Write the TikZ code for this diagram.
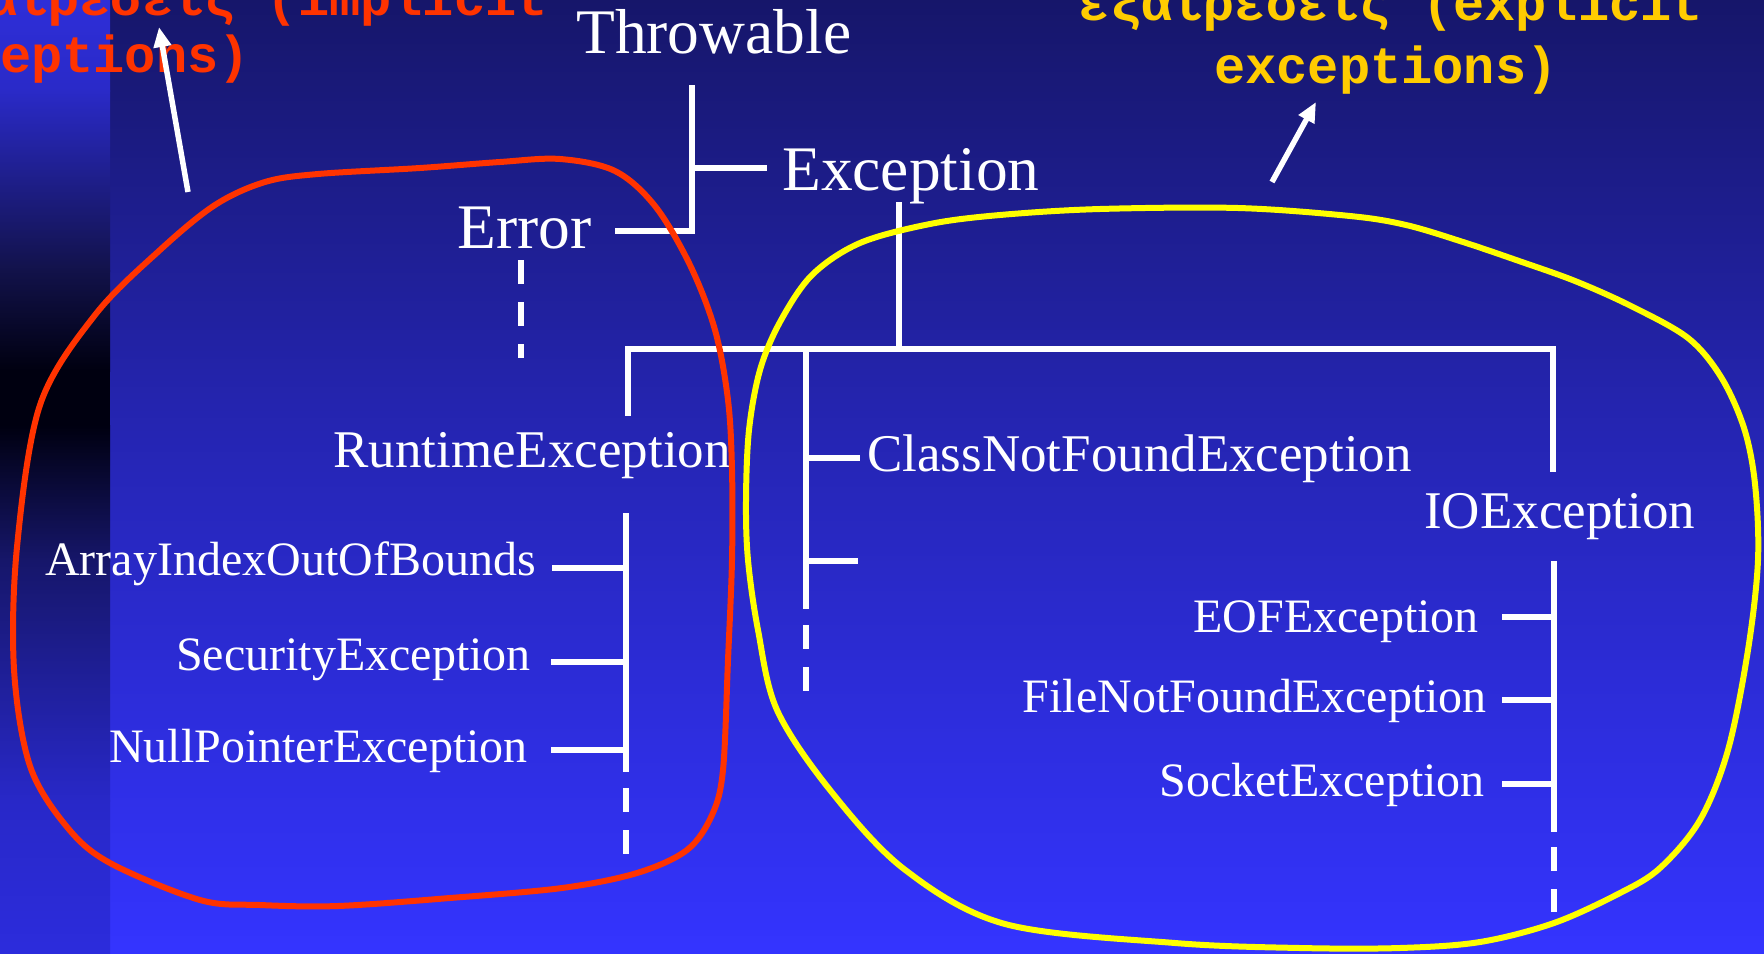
\documentclass[tikz,border=0pt]{standalone}
\usepackage{fontspec}
\setmainfont{Liberation Serif}
\newfontfamily\monofam{Liberation Mono}
\usetikzlibrary{arrows.meta}
\definecolor{bgA}{HTML}{16166A}
\definecolor{bgB}{HTML}{2424AE}
\definecolor{bgC}{HTML}{3434FF}
\definecolor{stA}{HTML}{2E2ED8}
\definecolor{stB}{HTML}{2A2AC8}
\definecolor{stC}{HTML}{12124A}
\definecolor{stD}{HTML}{000010}
\definecolor{stE}{HTML}{16166A}
\definecolor{stF}{HTML}{2828C8}
\definecolor{stG}{HTML}{2C2CDC}
\definecolor{redc}{HTML}{FF3300}
\definecolor{ylwline}{HTML}{FFFF00}
\definecolor{ylwtext}{HTML}{FFCC00}
\begin{document}
\begin{tikzpicture}[x=1pt,y=-1pt,line join=miter]
\tikzset{
 wline/.style={draw=white, line width=6.5pt},
 wdash/.style={draw=white, line width=6.5pt, dash pattern=on 24pt off 18pt},
 big/.style={text=white, inner sep=0pt, font=\fontsize{63.5}{70}\selectfont},
 mid/.style={text=white, inner sep=0pt, font=\fontsize{53}{60}\selectfont},
 small/.style={text=white, inner sep=0pt, font=\fontsize{48}{54}\selectfont},
 note/.style={inner sep=0pt, font=\monofam\bfseries\fontsize{52}{60}\selectfont},
 blob/.style={line width=6pt},
 pointer/.style={draw=white, line width=5.5pt, -{Triangle[length=20pt,width=17pt]}},
}
\useasboundingbox (0,0) rectangle (1764,953);
\clip (0,0) rectangle (1764,953);
% background
\fill[top color=bgA, bottom color=bgB] (0,0) rectangle (1764,401);
\fill[top color=bgB, bottom color=bgC] (0,400) rectangle (1764,953);
% left strip
\fill[top color=stA, bottom color=stB] (0,0) rectangle (110,91);
\fill[top color=stB, bottom color=stC] (0,90) rectangle (110,271);
\fill[top color=stC, bottom color=stD] (0,270) rectangle (110,371);
\fill[stD] (0,370) rectangle (110,426);
\fill[top color=stD, bottom color=stE] (0,425) rectangle (110,561);
\fill[top color=stE, bottom color=stF] (0,560) rectangle (110,801);
\fill[top color=stF, bottom color=stG] (0,800) rectangle (110,953);

% text nodes
\node[big, anchor=base west] (throwable) at (576,53) {Throwable};
\node[big, anchor=base west] (exception) at (782,190) {Exception};
\node[big, anchor=base west] (error) at (457,248) {Error};
\node[mid, anchor=base east] (runtime) at (731,467) {RuntimeException};
\node[mid, anchor=base west] (classnf) at (867,471) {ClassNotFoundException};
\node[mid, anchor=base west] (ioexc) at (1424,528) {IOException};
\node[small, anchor=base east] (aioob) at (536,575) {ArrayIndexOutOfBounds};
\node[small, anchor=base east] (security) at (531,670) {SecurityException};
\node[small, anchor=base east] (nullptr) at (528,762) {NullPointerException};
\node[small, anchor=base east] (eof) at (1479,632) {EOFException};
\node[small, anchor=base east] (filenf) at (1487,712) {FileNotFoundException};
\node[small, anchor=base east] (socket) at (1485,796) {SocketException};
\node[note, text=redc, anchor=base east] (imp1) at (548,16) {εξαιρεσεις (implicit};
\node[note, text=redc, anchor=base east] (imp2) at (250,72) {exceptions)};
\node[note, text=ylwtext, anchor=base] (exp1) at (1391,20) {εξαιρεσεις (explicit};
\node[note, text=ylwtext, anchor=base] (exp2) at (1386,83) {exceptions)};

% junction coordinates
\coordinate (thrTop) at (692,85);
\coordinate (thrExc) at (692,168);
\coordinate (excTick) at (767,168);
\coordinate (thrBot) at (692,231);
\coordinate (errTick) at (615,231);
\coordinate (errDashA) at (521,260);
\coordinate (errDashB) at (521,358);
\coordinate (excTop) at (899,202);
\coordinate (excBar) at (899,349);
\coordinate (barL) at (628,349);
\coordinate (barR) at (1553,349);
\coordinate (rtTop) at (628,416);
\coordinate (ioTop) at (1553,472);
\coordinate (cnBar) at (806,349);
\coordinate (cnBot) at (806,609);
\coordinate (cnT1) at (806,458);
\coordinate (cnT1e) at (860,458);
\coordinate (cnT2) at (806,561);
\coordinate (cnT2e) at (858,561);
\coordinate (cnDashA) at (806,625);
\coordinate (cnDashB) at (806,691);
\coordinate (rtV1) at (626,513);
\coordinate (rtV2) at (626,772);
\coordinate (rtT1) at (626,568);
\coordinate (rtT1e) at (552,568);
\coordinate (rtT2) at (626,662);
\coordinate (rtT2e) at (551,662);
\coordinate (rtT3) at (626,750);
\coordinate (rtT3e) at (551,750);
\coordinate (rtDashA) at (626,788);
\coordinate (rtDashB) at (626,855);
\coordinate (ioV1) at (1554,561);
\coordinate (ioV2) at (1554,832);
\coordinate (ioT1) at (1554,617);
\coordinate (ioT1e) at (1502,617);
\coordinate (ioT2) at (1554,700);
\coordinate (ioT2e) at (1502,700);
\coordinate (ioT3) at (1554,784);
\coordinate (ioT3e) at (1502,784);
\coordinate (ioDashA) at (1554,847);
\coordinate (ioDashB) at (1554,912);

% tree connectors
\draw[wline] (thrTop) -- (thrBot) -- (errTick);
\draw[wline] (thrExc) -- (excTick);
\draw[wdash] (errDashA) -- (errDashB);
\draw[wline] (excTop) -- (excBar);
\draw[wline] (rtTop) -- (barL) -- (barR) -- (ioTop);
\draw[wline] (cnBar) -- (cnBot);
\draw[wline] (cnT1) -- (cnT1e);
\draw[wline] (cnT2) -- (cnT2e);
\draw[wdash] (cnDashA) -- (cnDashB);
\draw[wline] (rtV1) -- (rtV2);
\draw[wline] (rtT1) -- (rtT1e);
\draw[wline] (rtT2) -- (rtT2e);
\draw[wline] (rtT3) -- (rtT3e);
\draw[wdash] (rtDashA) -- (rtDashB);
\draw[wline] (ioV1) -- (ioV2);
\draw[wline] (ioT1) -- (ioT1e);
\draw[wline] (ioT2) -- (ioT2e);
\draw[wline] (ioT3) -- (ioT3e);
\draw[wdash] (ioDashA) -- (ioDashB);

% enclosing curves
\draw[blob, draw=redc] plot[smooth cycle, tension=0.55] coordinates {
 (318,174) (420,168) (500,162) (560,159) (615,171) (655,206) (690,265)
 (715,330) (728,400) (732,470) (732,560) (728,660) (723,770) (712,815)
 (687,850) (637,873) (562,888) (450,898) (338,906) (260,905) (200,900)
 (110,863) (67,827) (30,766) (14,669) (17,547) (40,405) (95,315)
 (160,250) (215,205) (265,182)};
\draw[blob, draw=ylwline] plot[smooth cycle, tension=0.55] coordinates {
 (746,500) (749,430) (760,370) (780,322) (812,275) (860,243) (930,224)
 (1000,215) (1100,209) (1238,208) (1350,216) (1406,225) (1463,242)
 (1519,261) (1575,281) (1631,306) (1688,338) (1721,377) (1744,428)
 (1755,484) (1758,560) (1748,650) (1728,750) (1700,820) (1660,868)
 (1620,893) (1554,923) (1480,942) (1400,948) (1300,948) (1175,943)
 (1005,924) (904,869) (830,790) (777,710) (758,630) (748,560)};

% pointer arrows
\coordinate (impTail) at (188,192);
\coordinate (impTip) at (159,27);
\coordinate (expTail) at (1272,182);
\coordinate (expTip) at (1316,102);
\draw[pointer] (impTail) -- (impTip);
\draw[pointer] (expTail) -- (expTip);
\end{tikzpicture}
\end{document}
